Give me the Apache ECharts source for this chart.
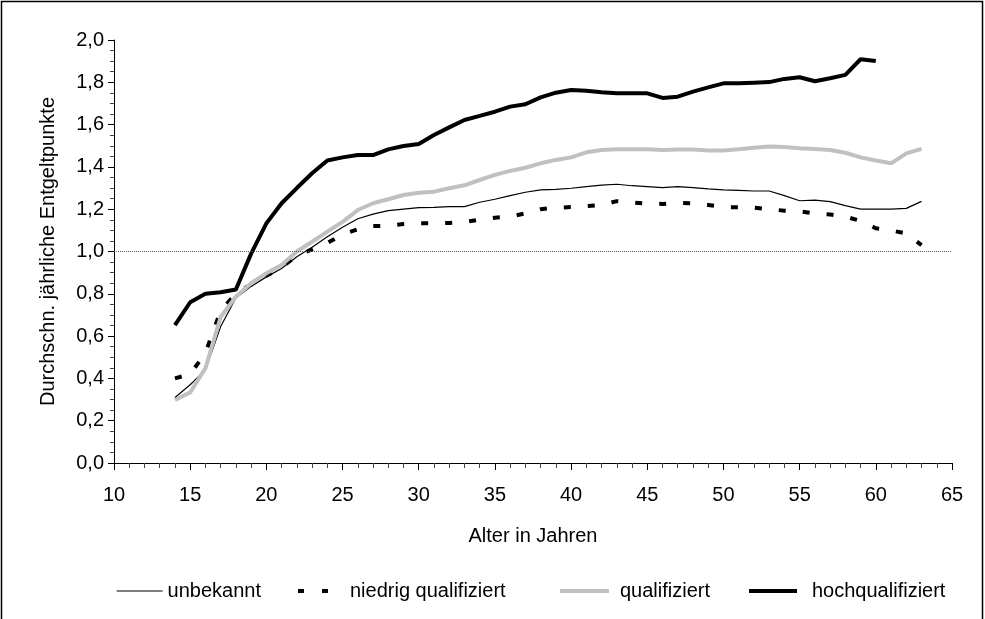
<!DOCTYPE html>
<html><head><meta charset="utf-8">
<script src="https://cdn.jsdelivr.net/npm/echarts@6/dist/echarts.min.js"></script>
<style>html,body{margin:0;padding:0;background:#fff}#c{width:985px;height:619px}</style>
</head><body><div id="c"></div>
<script>
const ages = [14,15,16,17,18,19,20,21,22,23,24,25,26,27,28,29,30,31,32,33,34,35,36,37,38,39,40,41,42,43,44,45,46,47,48,49,50,51,52,53,54,55,56,57,58,59,60,61,62,63];
const seriesNames = ['unbekannt','niedrig qualifiziert','qualifiziert','hochqualifiziert'];
const unbekannt = [0.31,0.37,0.44,0.645,0.78,0.835,0.88,0.92,0.975,1.02,1.07,1.115,1.155,1.177,1.193,1.20,1.207,1.209,1.212,1.212,1.233,1.247,1.264,1.28,1.291,1.294,1.299,1.307,1.314,1.318,1.311,1.307,1.302,1.307,1.302,1.296,1.291,1.289,1.286,1.286,1.264,1.24,1.243,1.236,1.217,1.20,1.20,1.20,1.204,1.237];
const niedrig = [0.40,0.42,0.52,0.72,0.80,0.845,0.885,0.925,0.98,1.01,1.04,1.08,1.105,1.12,1.122,1.13,1.133,1.133,1.135,1.14,1.15,1.16,1.165,1.18,1.20,1.207,1.21,1.215,1.22,1.238,1.232,1.226,1.225,1.23,1.228,1.22,1.21,1.209,1.207,1.20,1.193,1.19,1.18,1.175,1.165,1.145,1.11,1.10,1.085,1.03];
const qualifiziert = [0.298,0.334,0.448,0.69,0.786,0.85,0.897,0.936,1.0,1.046,1.094,1.14,1.196,1.228,1.247,1.267,1.278,1.283,1.299,1.313,1.338,1.362,1.381,1.396,1.417,1.433,1.445,1.469,1.48,1.483,1.483,1.483,1.48,1.482,1.482,1.477,1.477,1.483,1.491,1.496,1.494,1.488,1.485,1.48,1.467,1.445,1.43,1.417,1.464,1.485];
const hoch = [0.652,0.76,0.80,0.807,0.82,0.99,1.133,1.228,1.30,1.37,1.43,1.445,1.456,1.456,1.483,1.499,1.508,1.551,1.587,1.622,1.641,1.661,1.685,1.696,1.729,1.751,1.764,1.760,1.753,1.748,1.748,1.748,1.726,1.732,1.756,1.776,1.795,1.795,1.798,1.801,1.816,1.824,1.805,1.819,1.835,1.909,1.901];
const refValue = 1.0;

const pairs = arr => arr.map((v,i)=>[ages[i], v]);
const FONT = 'Liberation Sans';
const FS = 20;
const styles = [
  {color:'#000', width:1.2, type:'solid'},
  {color:'#000', width:4, type:[7,17]},
  {color:'#c0c0c0', width:4, type:'solid'},
  {color:'#000', width:4, type:'solid'}
];
const chart = echarts.init(document.getElementById('c'), null, {renderer:'canvas'});
function mkLegend(i, left, itemWidth, gap){
  return {orient:'horizontal', top:581, left:left, padding:0, itemHeight:14, itemWidth:itemWidth,
    data:[seriesNames[i]],
    itemStyle:{opacity:0, borderWidth:0},
    lineStyle:{color:styles[i].color, width:styles[i].width, type:styles[i].type},
    textStyle:{fontFamily:FONT, fontSize:FS, color:'#000', padding:[0,0,0,gap]}};
}
const dashLegend = {orient:'horizontal', top:581, left:298, padding:0, itemHeight:14, itemWidth:30,
  data:[{name:seriesNames[1], icon:'path://M0,5h6v4h-6z M24,5h6v4h-6z M0,0h0.01v14h-0.01z'}],
  itemStyle:{color:'#000', opacity:1, borderWidth:0},
  textStyle:{fontFamily:FONT, fontSize:FS, color:'#000', padding:[0,0,0,17]}};
chart.setOption({
  animation:false,
  backgroundColor:'#fff',
  graphic:[{type:'rect', shape:{x:1.5,y:1.5,width:981,height:640}, style:{fill:'none', stroke:'#000', lineWidth:1.5}, silent:true}],
  grid:{left:114, right:33, top:40, bottom:156},
  legend:[
    mkLegend(0,116,46,0),
    dashLegend,
    mkLegend(2,558,49,6),
    mkLegend(3,747,48,10)
  ],
  xAxis:{type:'value', min:10, max:65, interval:5,
    name:'Alter in Jahren', nameLocation:'middle', nameGap:63,
    nameTextStyle:{fontFamily:FONT, fontSize:FS, color:'#000'},
    axisLine:{lineStyle:{color:'#000', width:1}},
    axisTick:{length:7, lineStyle:{color:'#000'}},
    minorTick:{show:true, splitNumber:5, length:5, lineStyle:{color:'#444'}},
    splitLine:{show:false},
    axisLabel:{fontFamily:FONT, fontSize:FS, color:'#000', margin:22}
  },
  yAxis:{type:'value', min:0, max:2, interval:0.2,
    name:'Durchschn. jährliche Entgeltpunkte', nameLocation:'middle', nameGap:56,
    nameTextStyle:{fontFamily:FONT, fontSize:FS, color:'#000'},
    axisLine:{show:true, lineStyle:{color:'#000', width:1}},
    axisTick:{show:true, length:6, lineStyle:{color:'#000'}},
    minorTick:{show:true, splitNumber:4, length:4, lineStyle:{color:'#444'}},
    splitLine:{show:false},
    axisLabel:{fontFamily:FONT, fontSize:FS, color:'#000', margin:10,
      formatter:v=>v.toFixed(1).replace('.', ',')}
  },
  series:[
    {name:seriesNames[0], type:'line', data:pairs(unbekannt), symbol:'none', showSymbol:false,
      lineStyle:styles[0], itemStyle:{color:styles[0].color},
      markLine:{silent:true, symbol:'none', label:{show:false},
        lineStyle:{color:'#555', width:1, type:[1,1]}, data:[{yAxis:refValue}]}},
    {name:seriesNames[1], type:'line', data:pairs(niedrig), symbol:'none', showSymbol:false,
      lineStyle:styles[1], itemStyle:{color:styles[1].color}},
    {name:seriesNames[2], type:'line', data:pairs(qualifiziert), symbol:'none', showSymbol:false,
      lineStyle:styles[2], itemStyle:{color:styles[2].color}},
    {name:seriesNames[3], type:'line', data:pairs(hoch), symbol:'none', showSymbol:false,
      lineStyle:styles[3], itemStyle:{color:styles[3].color}}
  ]
});
</script></body></html>
